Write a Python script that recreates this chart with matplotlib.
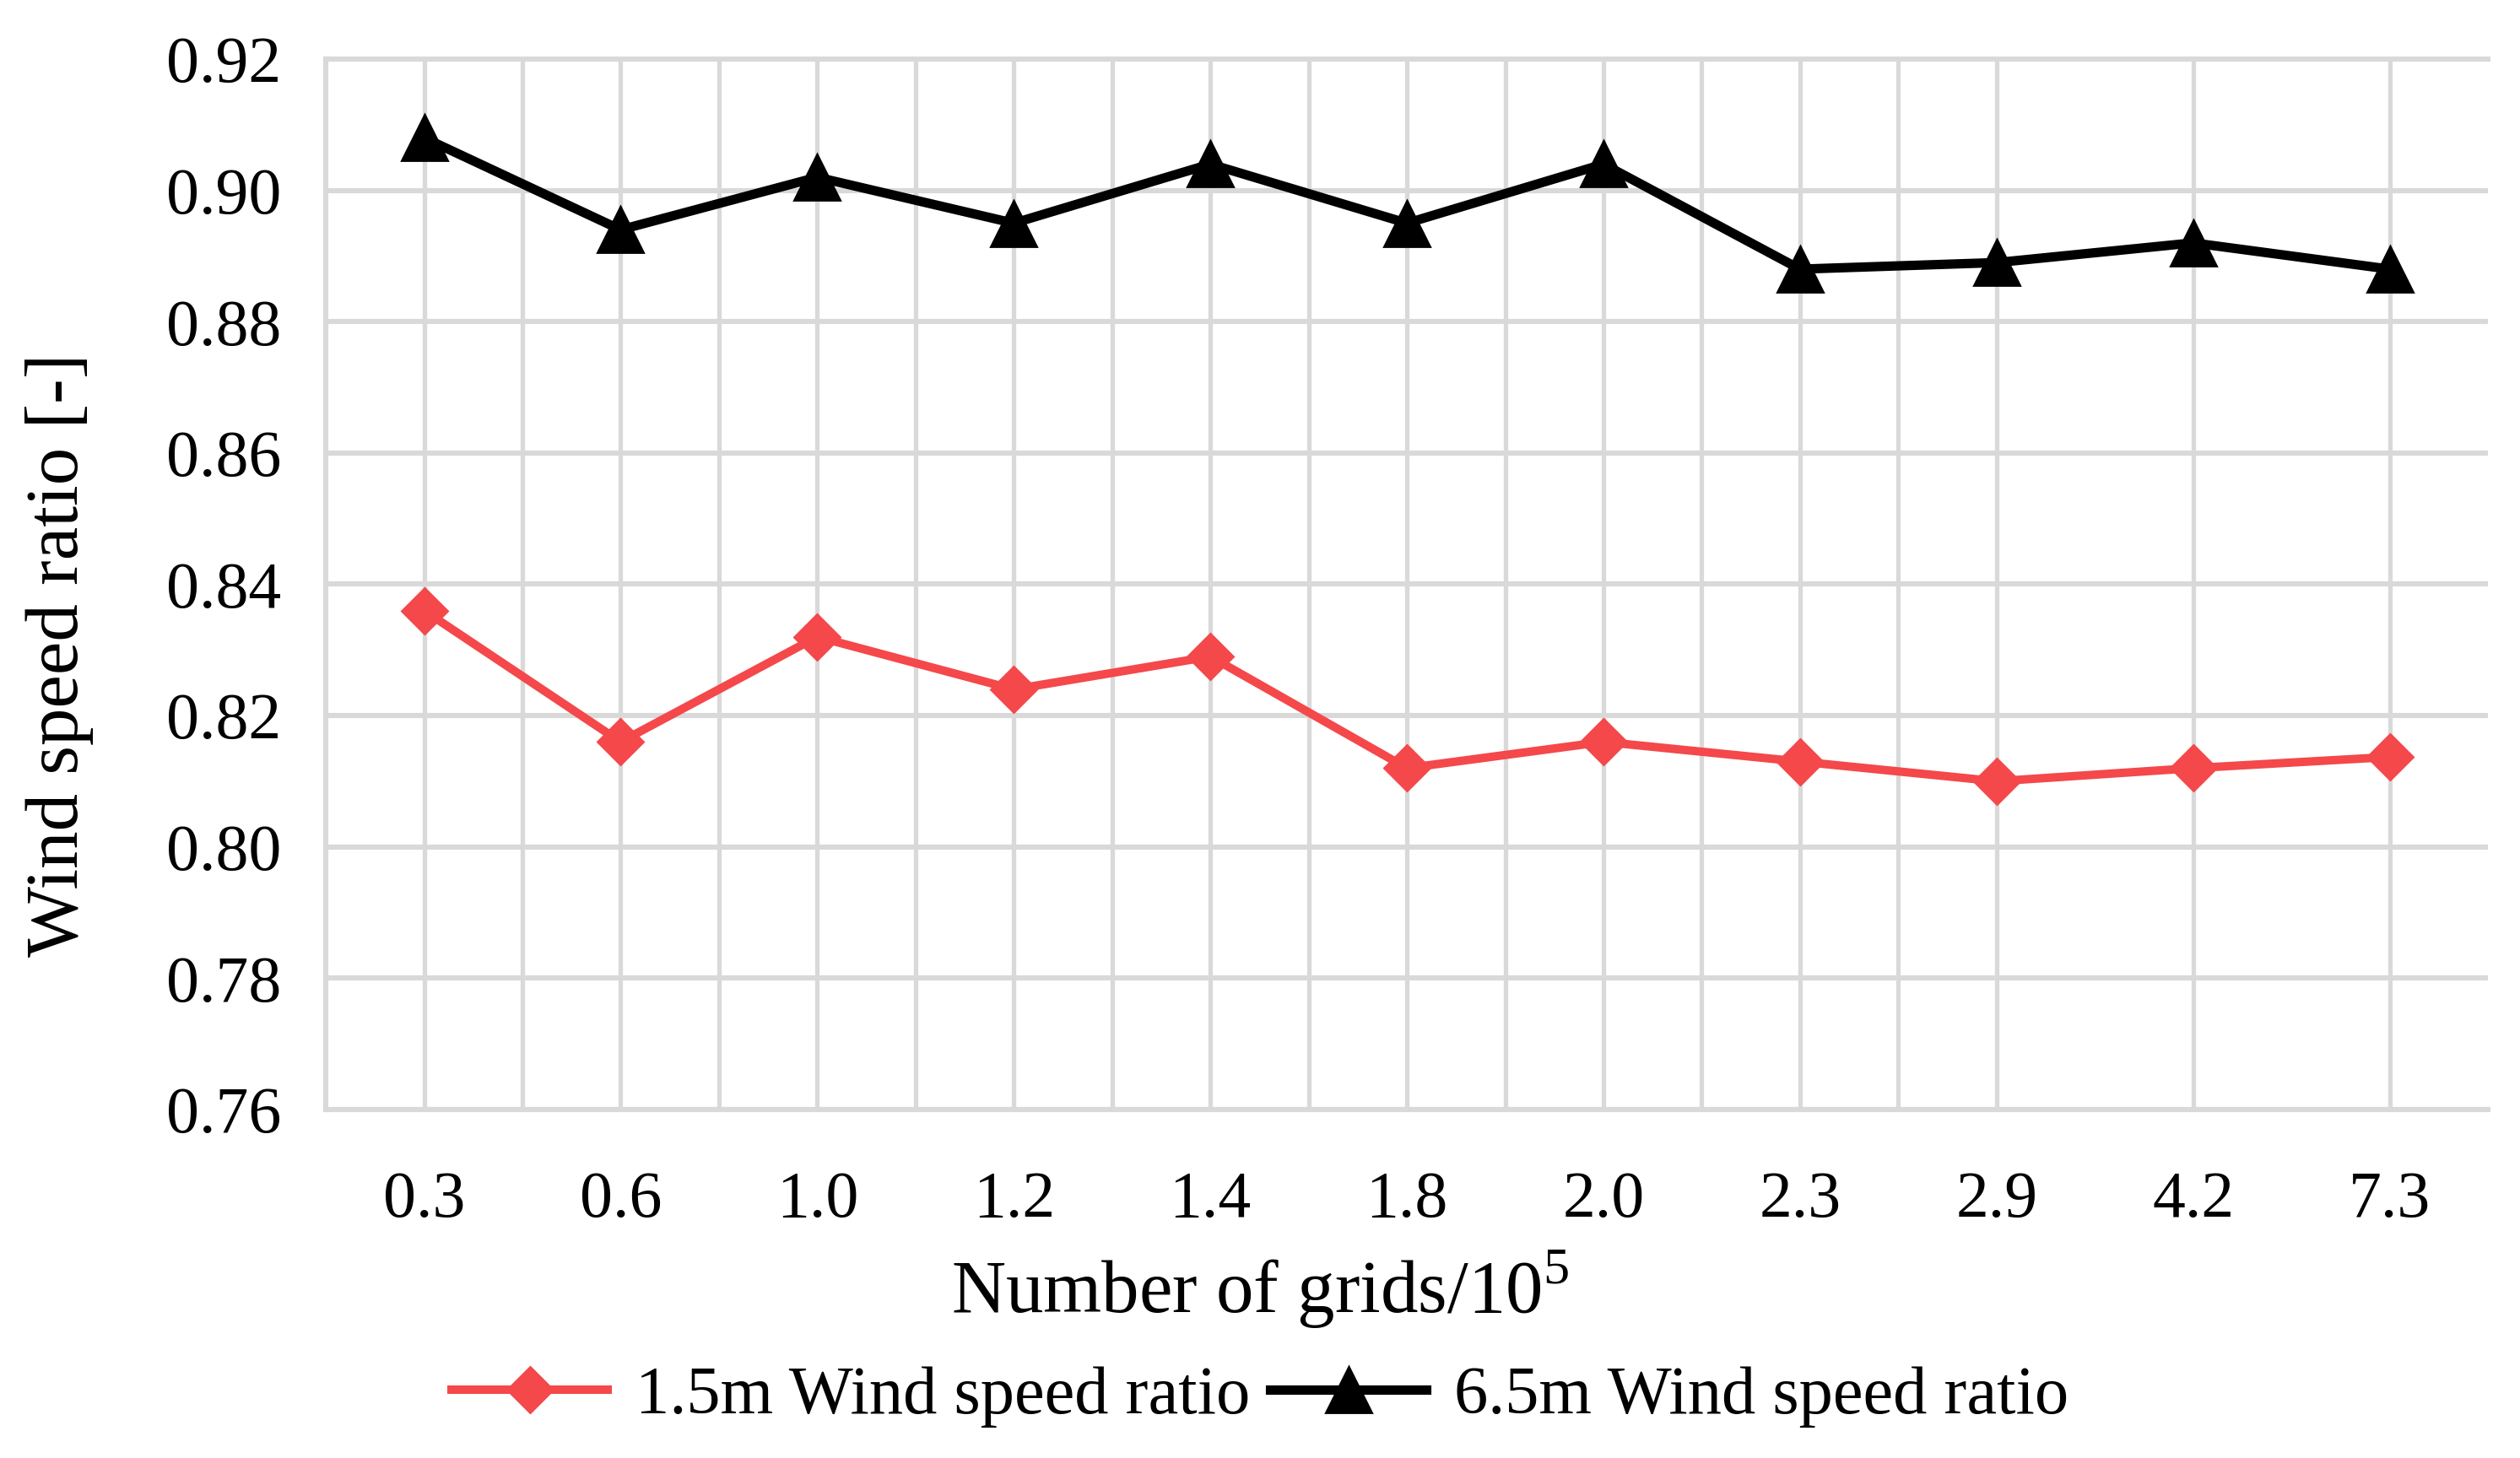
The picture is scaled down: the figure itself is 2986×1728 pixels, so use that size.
import numpy as np
import matplotlib
matplotlib.use("Agg")
import matplotlib.pyplot as plt
from matplotlib.ticker import FixedLocator, FormatStrFormatter

# Mesh independence data
grid_labels = ['0.3', '0.6', '1.0', '1.2', '1.4', '1.8', '2.0', '2.3', '2.9', '4.2', '7.3']
ratio_15m = [0.836, 0.816, 0.832, 0.824, 0.829, 0.812, 0.816, 0.813, 0.810, 0.812, 0.8137]
ratio_65m = [0.908, 0.894, 0.902, 0.895, 0.904, 0.895, 0.904, 0.888, 0.889, 0.892, 0.888]
y_ticks = [0.76, 0.78, 0.80, 0.82, 0.84, 0.86, 0.88, 0.90, 0.92]

plt.rcParams['font.family'] = ['Liberation Serif', 'DejaVu Serif']
plt.rcParams['mathtext.fontset'] = 'custom'
plt.rcParams['mathtext.rm'] = 'Liberation Serif'

grid_col = '#d9d9d9'
red = '#f4484a'
fs = 28

fig = plt.figure(figsize=(14.93, 8.64), dpi=200)
ax = fig.add_axes([0.1293, 0.2390, 0.8580, 0.7205])

x = np.arange(len(grid_labels))
ax.plot(x, ratio_15m, color=red, lw=3.6, marker='D', ms=14,
        label='1.5m Wind speed ratio', zorder=3)
ax.plot(x, ratio_65m, color='black', lw=4.0, marker='^', ms=19.5,
        label='6.5m Wind speed ratio', zorder=3)

ax.set_xlim(-0.5, len(grid_labels) - 0.5)
ax.set_ylim(0.76, 0.92)
ax.set_yticks(y_ticks)
ax.yaxis.set_major_formatter(FormatStrFormatter('%.2f'))
ax.set_xticks(x)
ax.set_xticklabels(grid_labels)

ax.grid(True, axis='y', color=grid_col, lw=2.2, zorder=0)
ax.grid(True, axis='x', which='major', color=grid_col, lw=1.9, zorder=0)
# half-category lines, only where the reference shows them
for xm in np.arange(0.5, 8.0, 1.0):
    ax.axvline(xm, color=grid_col, lw=1.9, zorder=0)
ax.set_axisbelow(True)

ax.tick_params(which='both', length=0)
ax.tick_params(axis='y', labelsize=fs, pad=19)
ax.tick_params(axis='x', labelsize=fs, pad=26)

for side in ['left', 'top', 'bottom']:
    ax.spines[side].set_color(grid_col)
    ax.spines[side].set_linewidth(2.2)
ax.spines['right'].set_visible(False)

fig.text(0.5, 1 - 1528 / 1728, r'Number of grids/10$^{\mathrm{5}}$', ha='center', va='center', fontsize=32)
fig.text(0.0235, 1 - 776 / 1728, 'Wind speed ratio [-]', rotation=90,
         ha='center', va='center', fontsize=32)

fig.legend(loc='center', bbox_to_anchor=(0.5, 1 - 1655 / 1728), ncol=2, frameon=False,
           fontsize=29, handlelength=2.3, handletextpad=0.4, columnspacing=0.3,
           borderaxespad=0)

fig.savefig('out.png', dpi=200)
